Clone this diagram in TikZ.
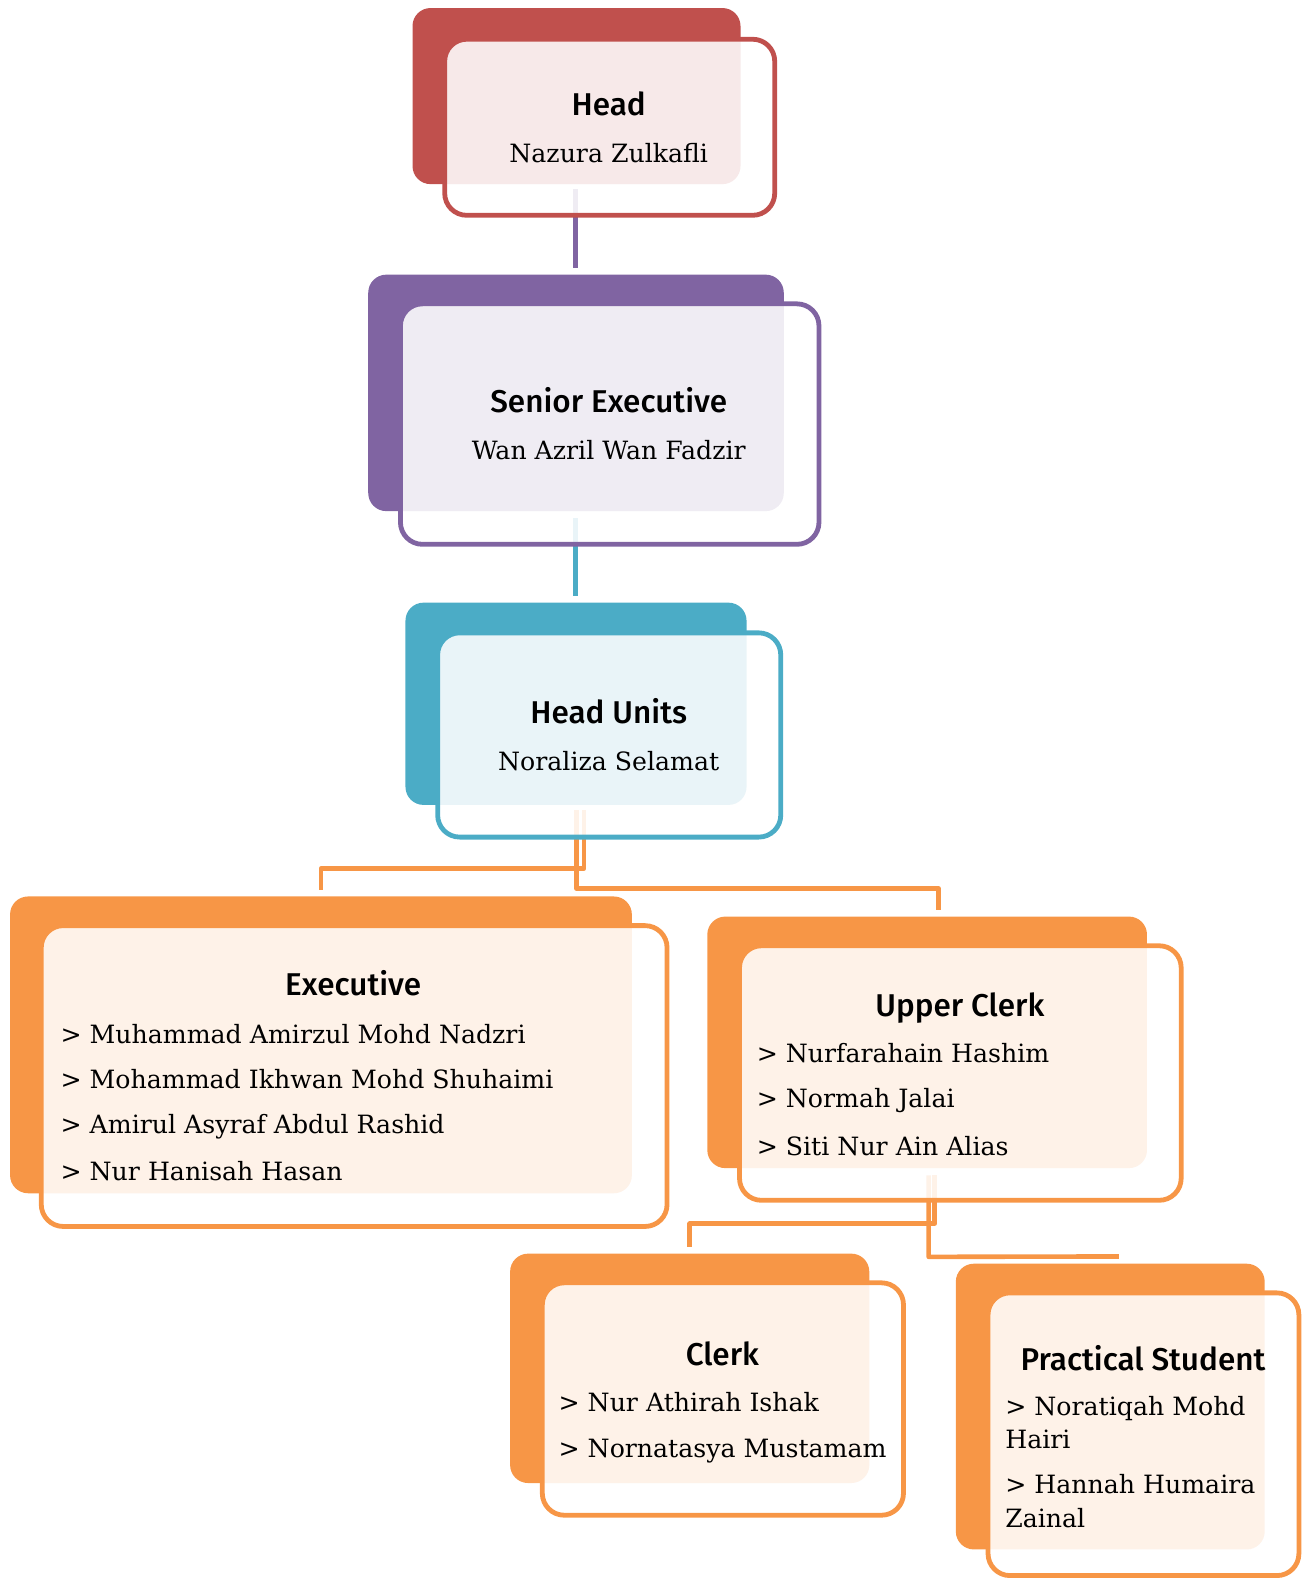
\documentclass[tikz,border=0pt]{standalone}
\usepackage{fontspec}
\usetikzlibrary{fit,calc}
\newfontfamily\titlefont{Fira Sans}[UprightFont=* Medium]
\newfontfamily\namefont{DejaVu Serif}
\definecolor{cred}{HTML}{C0504D}
\definecolor{cpurple}{HTML}{8064A2}
\definecolor{ccyan}{HTML}{4BACC6}
\definecolor{corange}{HTML}{F79646}
\tikzset{
  backbox/.style={rounded corners=18pt, fill=#1, draw=none, inner sep=0pt},
  frontbox/.style={rounded corners=22pt, draw=#1, line width=4.8pt, fill=white, fill opacity=0.88, inner sep=0pt},
  conn/.style={draw=#1, line width=4.6pt, line join=round},
  ttl/.style={font=\titlefont\fontsize{31.5}{36}\selectfont, inner sep=0pt, anchor=base},
  nm/.style={font=\namefont\fontsize{25.2}{31}\selectfont, inner sep=0pt, anchor=base},
  item/.style={font=\namefont\fontsize{25.2}{31}\selectfont, inner sep=0pt, anchor=base west},
}
\begin{document}
\begin{tikzpicture}[x=1.00616pt,y=-1.00616pt]
\useasboundingbox (0,0) rectangle (1298,1568.4);
\clip (0,0) rectangle (1298,1568.4);
% back boxes
\node[backbox=cred, fit={(410,8)(736,183)}] (hb) {};
\node[backbox=cpurple, fit={(366,273)(779,508)}] (sb) {};
\node[backbox=ccyan, fit={(403,599)(742,800)}] (hub) {};
\node[backbox=corange, fit={(10,891)(628,1186)}] (eb) {};
\node[backbox=corange, fit={(703,911)(1140,1161)}] (ub) {};
\node[backbox=corange, fit={(507,1246)(864,1474)}] (cb) {};
\node[backbox=corange, fit={(950,1256)(1257,1540)}] (pb) {};
% connectors
\draw[conn=cpurple] ($(hb.south)+(-1,5)$) -- ($(sb.north)+(-0.5,-6)$);
\draw[conn=ccyan] ($(sb.south)+(-0.5,7)$) -- ($(hub.north)+(-0.5,-6)$);
\draw[conn=corange] ($(hub.south)+(8,5)$) -- ++(0,58) -| ($(eb.north)+(0,-6)$);
\draw[conn=corange] ($(hub.south)+(0.5,5)$) -- ++(0,78) -| ($(ub.north)+(11.5,-6)$);
\draw[conn=corange] ($(ub.south)+(7.5,7)$) -- ++(0,48) -| ($(cb.north)+(0,-6)$);
\draw[conn=corange] ($(ub.south)+(1.5,7)$) -- ++(0,81) -- ($(pb.north)+(8.5,-7)$);
% front boxes
\node[frontbox=cred, fit={(442,39)(770,214)}] (hf) {};
\node[frontbox=cpurple, fit={(398,302)(814,541)}] (sf) {};
\node[frontbox=ccyan, fit={(435,629)(776,832)}] (huf) {};
\node[frontbox=corange, fit={(41,920)(663,1219)}] (ef) {};
\node[frontbox=corange, fit={(735,940)(1174,1193)}] (uf) {};
\node[frontbox=corange, fit={(539,1275)(898,1506)}] (cf) {};
\node[frontbox=corange, fit={(982,1285)(1291,1566)}] (pf) {};
% texts
\node[ttl] (t1) at (605,115) {Head};
\node[nm] (n1) at (605,162) {Nazura Zulkafli};
\node[ttl] (t2) at (605,410) {Senior Executive};
\node[nm] (n2) at (605,457) {Wan Azril Wan Fadzir};
\node[ttl] (t3) at (605,719) {Head Units};
\node[nm] (n3) at (605,766) {Noraliza Selamat};
\node[ttl] (t4) at (351,989) {Executive};
\node[item] (e1) at (60,1037) {> Muhammad Amirzul Mohd Nadzri};
\node[item] (e2) at (60,1082) {> Mohammad Ikhwan Mohd Shuhaimi};
\node[item] (e3) at (60,1127) {> Amirul Asyraf Abdul Rashid};
\node[item] (e4) at (60,1173) {> Nur Hanisah Hasan};
\node[ttl] (t5) at (954,1010) {Upper Clerk};
\node[item] (u1) at (752,1056) {> Nurfarahain Hashim};
\node[item] (u2) at (752,1101) {> Normah Jalai};
\node[item] (u3) at (752,1148) {> Siti Nur Ain Alias};
\node[ttl] (t6) at (718,1357) {Clerk};
\node[item] (c1) at (555,1403) {> Nur Athirah Ishak};
\node[item] (c2) at (555,1449) {> Nornatasya Mustamam};
\node[ttl] (t7) at (1136,1362) {Practical Student};
\node[item] (p1) at (999,1407) {> Noratiqah Mohd};
\node[item] (p2) at (999,1440) {Hairi};
\node[item] (p3) at (999,1484) {> Hannah Humaira};
\node[item] (p4) at (999,1518) {Zainal};
\end{tikzpicture}
\end{document}
